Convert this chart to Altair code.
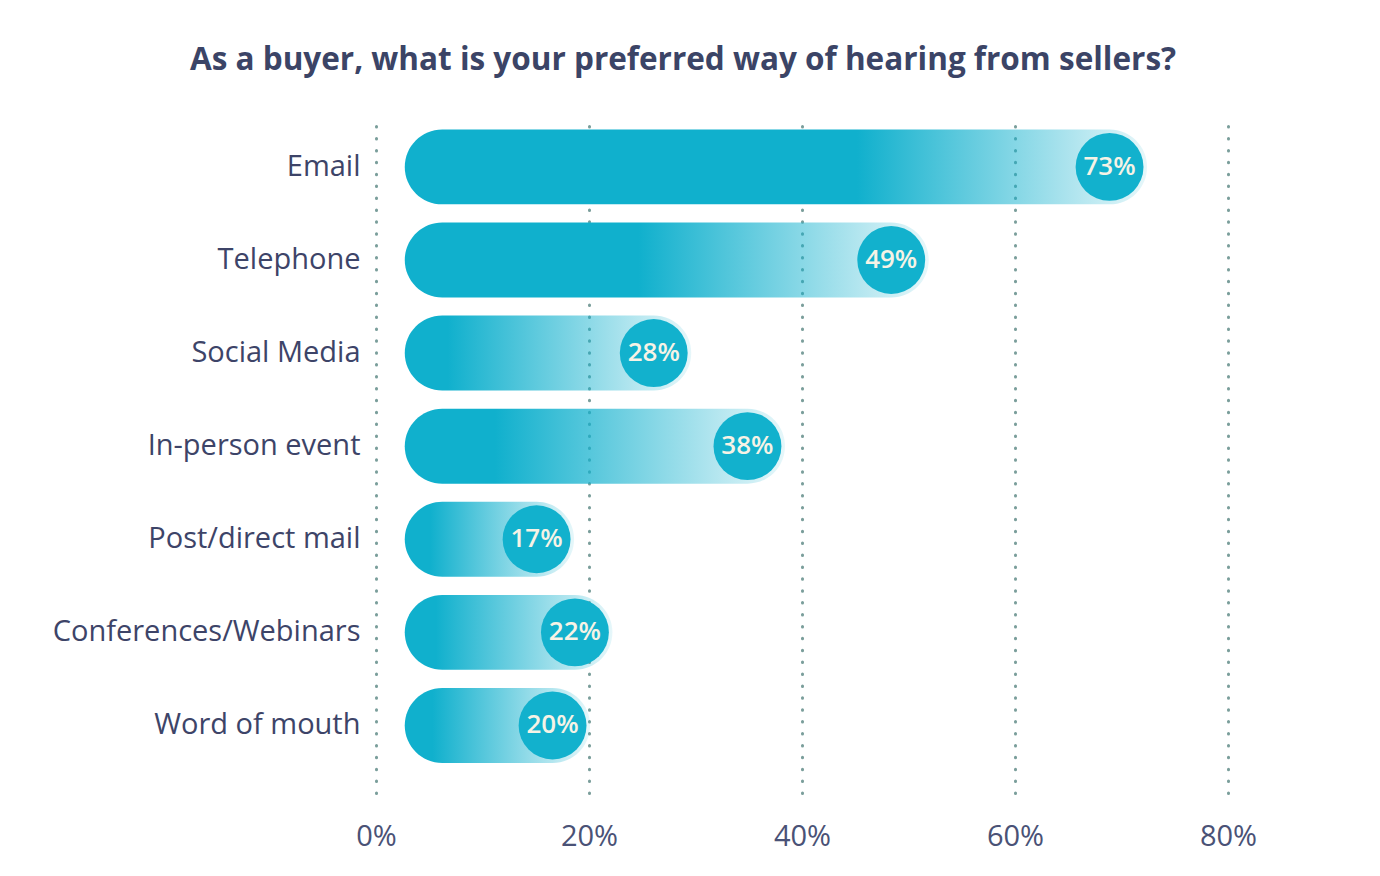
import math
import altair as alt
import pandas as pd

# ---- data ----
categories = ["Email", "Telephone", "Social Media", "In-person event",
              "Post/direct mail", "Conferences/Webinars", "Word of mouth"]
values = [73, 49, 28, 38, 17, 22, 20]                 # printed percentages
drawn_end = [72.4, 51.9, 29.6, 38.4, 18.6, 22.2, 20.1]  # where each pill ends (x-axis %)
bar_start = 2.7                                       # pills start slightly right of 0%
x_ticks = [0, 20, 40, 60, 80]

df = pd.DataFrame({
    "category": categories,
    "value": values,
    "end": drawn_end,
    "start": [bar_start] * len(categories),
    "label": [f"{v}%" for v in values],
})

FONT = "Open Sans"
TEAL = "#10b0cd"
TEXT = "#3d4468"
W, H = 852, 674
R = 37.5
PX = W / 80.0

y_enc = alt.Y(
    "category:N", sort=categories, title=None,
    scale=alt.Scale(paddingInner=0.195, paddingOuter=0.2175, align=0.257),
    axis=alt.Axis(domain=False, ticks=False, labelFontSize=29, labelColor=TEXT,
                  labelFont=FONT, labelPadding=16, labelLimit=500),
)

x_scale = alt.Scale(domain=[0, 80], nice=False, zero=False)
x_axis = alt.Axis(values=x_ticks, labelExpr="datum.value + '%'", grid=True,
                  gridDash=[0.5, 11.4], gridCap="round", gridWidth=3,
                  gridColor="#7a9e9b", domain=False, ticks=False,
                  labelFontSize=29, labelColor="#4a5276", labelFont=FONT,
                  labelPadding=29, labelFlush=False, title=None)

layers = []
for i, cat in enumerate(categories):
    w = (drawn_end[i] - bar_start) * PX
    fade_start = max(0.15, (w - 290) / w)
    grad = alt.LinearGradient(
        gradient="linear", x1=0, x2=1, y1=0, y2=0,
        stops=[alt.GradientStop(offset=0, color=TEAL),
               alt.GradientStop(offset=fade_start, color=TEAL),
               alt.GradientStop(offset=1, color="rgba(16,176,205,0.10)")],
    )
    layers.append(
        alt.Chart(df).transform_filter(alt.datum.category == cat)
        .mark_bar(cornerRadius=R, color=grad)
        .encode(
            x=alt.X("start:Q", scale=x_scale, axis=x_axis, title=None),
            x2="end:Q",
            y=y_enc,
        )
    )

circles = alt.Chart(df).mark_circle(size=math.pi * (R + 0.8) ** 2, color="#12b1cd",
                                     opacity=1, xOffset=-R).encode(
    x=alt.X("end:Q", scale=x_scale, axis=x_axis, title=None), y=y_enc)

texts = alt.Chart(df).mark_text(xOffset=-R, font=FONT, fontSize=26, fontWeight=600,
                                color="#f6f3e6").encode(
    x=alt.X("end:Q", scale=x_scale, axis=x_axis, title=None), y=y_enc, text="label:N")

chart = alt.layer(*layers, circles, texts).properties(
    width=W, height=H, background="white",
    title=alt.TitleParams(
        "As a buyer, what is your preferred way of hearing from sellers?",
        font=FONT, fontSize=31.5, fontWeight="bold", color="#3b4466",
        anchor="middle", frame="group", dx=-119, offset=18, baseline="alphabetic"),
    autosize=alt.AutoSizeParams(type="none"),
    padding={"left": 368, "top": 111, "right": 144, "bottom": 75},
).configure_view(stroke=None, strokeWidth=0)

chart.save("out.html", embed_options={"renderer": "svg", "actions": False})
